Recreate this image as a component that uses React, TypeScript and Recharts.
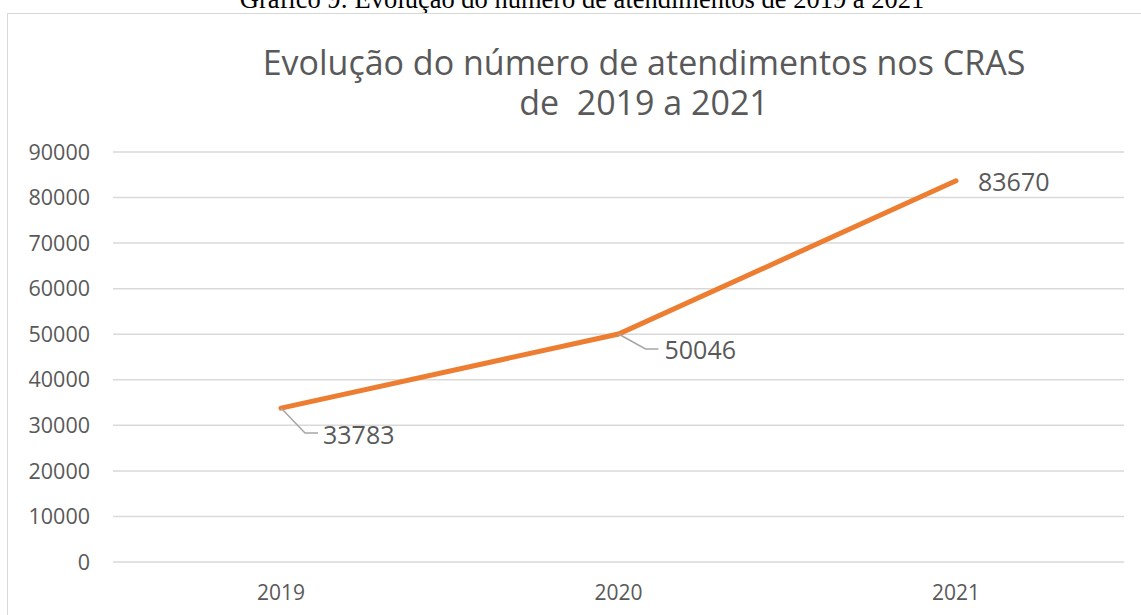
import React from 'react';
import { LineChart, Line, XAxis, YAxis, CartesianGrid, LabelList } from 'recharts';

const years = ['2019', '2020', '2021'];
const atendimentos = [33783, 50046, 83670];
const yTicks = [0, 10000, 20000, 30000, 40000, 50000, 60000, 70000, 80000, 90000];

const data = years.map((year, i) => ({ year, value: atendimentos[i] }));

const TEXT = '#595959';
const FONT = '"Open Sans", sans-serif';

// data label with Excel-style leader line
const renderLabel = (props: any) => {
  const { x, y, value, index } = props;
  if (index === 0) {
    return (
      <g>
        <path d={`M${x},${y} L${x + 24},${y + 25} L${x + 37},${y + 25}`} stroke="#a6a6a6" strokeWidth={1.5} fill="none" />
        <text x={x + 42} y={y + 27} dy="0.36em" fontSize={25} fill={TEXT} fontFamily={FONT}>{value}</text>
      </g>
    );
  }
  if (index === 1) {
    return (
      <g>
        <path d={`M${x},${y} L${x + 27},${y + 15} L${x + 40},${y + 15}`} stroke="#a6a6a6" strokeWidth={1.5} fill="none" />
        <text x={x + 46} y={y + 16} dy="0.36em" fontSize={25} fill={TEXT} fontFamily={FONT}>{value}</text>
      </g>
    );
  }
  return (
    <text x={x + 22} y={y + 1} dy="0.36em" fontSize={25} fill={TEXT} fontFamily={FONT}>{value}</text>
  );
};

const App: React.FC = () => {
  return (
    <div style={{ position: 'absolute', left: 0, top: 0, width: 1141, height: 615, overflow: 'hidden', background: '#fff' }}>
      <div
        style={{
          position: 'absolute', left: 0, top: -15, width: 1164, textAlign: 'center', whiteSpace: 'nowrap',
          fontFamily: '"Liberation Serif", serif', fontSize: 26.5, lineHeight: '28px', color: '#000',
        }}
      >
        Gráfico 9: Evolução do número de atendimentos de 2019 a 2021
      </div>
      <div
        style={{
          position: 'absolute', left: 7, top: 13, width: 1160, height: 640,
          border: '1.5px solid #d9d9d9', boxSizing: 'border-box',
        }}
      />
      <div
        style={{
          position: 'absolute', left: 0, top: 42, width: 1288, textAlign: 'center', whiteSpace: 'nowrap',
          fontFamily: FONT, fontSize: 34, lineHeight: '40px', color: TEXT,
        }}
      >
        <div>Evolução do número de atendimentos nos CRAS</div>
        <div style={{ whiteSpace: 'pre' }}>de  2019 a 2021</div>
      </div>
      <div style={{ position: 'absolute', left: 0, top: 0 }}>
        <LineChart width={1141} height={615} data={data} margin={{ top: 152, right: 17, bottom: 0, left: 0 }}>
          <CartesianGrid vertical={false} stroke="#d9d9d9" strokeWidth={1.5} />
          <XAxis
            dataKey="year"
            height={53}
            padding={{ left: 168, right: 168 }}
            axisLine={false}
            tickLine={false}
            tickSize={0}
            tickMargin={23}
            tick={{ fill: TEXT, fontSize: 21, fontFamily: FONT }}
          />
          <YAxis
            domain={[0, 90000]}
            ticks={yTicks}
            width={113}
            axisLine={false}
            tickLine={false}
            tickSize={0}
            tickMargin={23}
            interval={0}
            tick={{ fill: TEXT, fontSize: 21.5, fontFamily: FONT }}
          />
          <Line
            type="linear"
            dataKey="value"
            stroke="#ED7D31"
            strokeWidth={5}
            strokeLinecap="round"
            dot={false}
            activeDot={false}
            isAnimationActive={false}
          >
            <LabelList dataKey="value" content={renderLabel} />
          </Line>
        </LineChart>
      </div>
    </div>
  );
};

export default App;
